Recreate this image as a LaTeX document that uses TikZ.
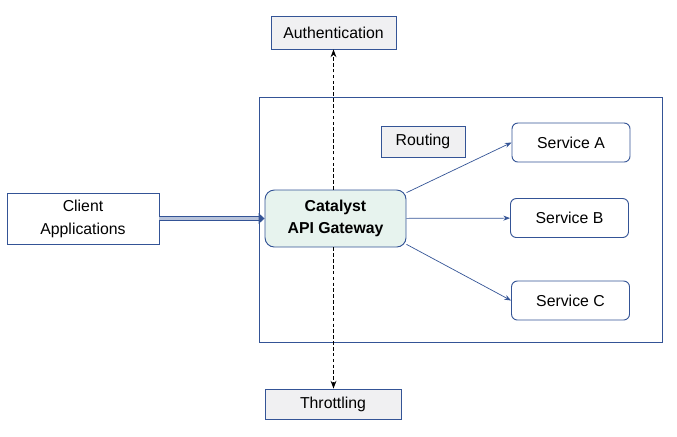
\documentclass[tikz,border=0pt]{standalone}
\usepackage{fontspec}
\setmainfont{Liberation Sans}
\usepackage{xcolor}
\usetikzlibrary{arrows.meta,positioning}
\definecolor{gwblue}{RGB}{52,84,150}
\definecolor{gwgreen}{RGB}{231,243,238}
\definecolor{boxgray}{RGB}{240,240,242}

\begin{document}
\begin{tikzpicture}[x=0.03cm,y=-0.03cm,>=Stealth,
    box/.style={draw=gwblue,thick,fill=white,align=center,inner sep=0pt,font=\fontsize{13.5}{19.5}\selectfont},
    tag/.style={box,fill=boxgray},
    svc/.style={box,rounded corners=5pt,minimum width=118*0.03cm,minimum height=39*0.03cm}]
  \useasboundingbox (0,0) rectangle (677,436);
  % gateway frame
  \draw[gwblue,thick] (259,97) rectangle (662,342);
  % outer nodes
  \node[box,minimum width=152*0.03cm,minimum height=51*0.03cm] (client) at (83,218.5) {Client\\Applications};
  \node[tag,minimum width=125*0.03cm,minimum height=33*0.03cm] (auth) at (333.5,32.5) {Authentication};
  \node[tag,minimum width=136*0.03cm,minimum height=30*0.03cm] (thr) at (333,404) {Throttling};
  \node[tag,minimum width=84*0.03cm,minimum height=31*0.03cm] (route) at (423,141.5) {Routing};
  % gateway
  \node[box,fill=gwgreen,rounded corners=8pt,font=\fontsize{13.5}{18.5}\selectfont\bfseries,
        minimum width=141*0.03cm,minimum height=57*0.03cm] (gw) at (335.5,218.5) {Catalyst\\API Gateway};
  % services
  \node[svc] (sa) at (571,142.5) {Service A};
  \node[svc] (sb) at (569.5,218) {Service B};
  \node[svc] (sc) at (570.5,300.5) {Service C};
  % dashed checks
  \draw[->,densely dashed,thick] (gw.north -| auth.south) -- (auth.south);
  \draw[->,densely dashed,thick] (gw.south -| auth.south) -- (thr.north -| auth.south);
  % client request
  \draw[-{Triangle[length=5pt,width=9pt]},gwblue,double=gwblue!35,double distance=3pt,thick] (client) -- (gw);
  % routing edges
  \draw[->,gwblue,semithick] (gw.20) -- (sa.west);
  \draw[->,gwblue,semithick] (gw) -- (sb);
  \draw[->,gwblue,semithick] (gw.-20) -- (sc.west);
\end{tikzpicture}
\end{document}
